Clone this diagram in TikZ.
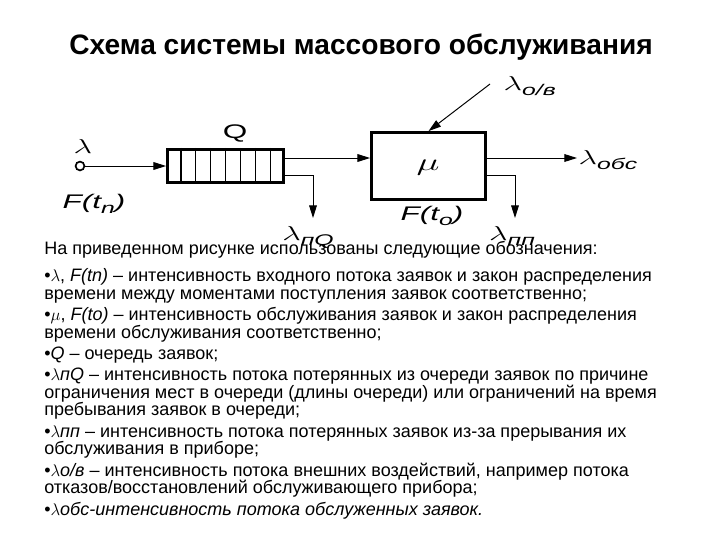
\documentclass[tikz,border=0pt]{standalone}
\usepackage{fontspec}
\setmainfont{Liberation Sans}
\usetikzlibrary{arrows.meta,positioning,calc}
\newcommand\stretchx[1]{\scalebox{1.6}[1]{#1}}
\newcommand\lamsub[1]{\stretchx{$\lambda$\raisebox{-0.45ex}{\fontsize{11}{12}\selectfont #1}}}

\begin{document}
\begin{tikzpicture}[x=0.025cm,y=-0.025cm,font=\fontsize{14}{16}\selectfont]
\tikzset{arr/.style={draw,line width=0.7pt,-{Triangle[length=9pt,width=5.5pt]}},
  thickbox/.style={draw,line width=2pt,rectangle,inner sep=0pt},
  lbl/.style={inner sep=1pt,font=\fontsize{14}{16}\selectfont\itshape}}
\useasboundingbox (0,0) rectangle (720,540);
% title
\node[font=\bfseries\fontsize{20}{22}\selectfont] (title) at (361,47) {Схема системы массового обслуживания};
% input
\node[draw,circle,line width=1.2pt,minimum size=0.22cm,inner sep=0pt] (src) at (80,166) {};
\node[lbl] (lin) at (83,146) {\stretchx{$\lambda$}};
\node[lbl] (Fn) at (94,204) {\stretchx{F(t\raisebox{-0.45ex}{\fontsize{11}{12}\selectfont n})}};
% queue
\node[thickbox,minimum width=2.9cm,minimum height=0.83cm] (queue) at (225.5,166) {};
\foreach \i in {1,...,7}
  \draw[line width=0.8pt] ($(queue.north west)!\i/8!(queue.north east)$) -- ($(queue.south west)!\i/8!(queue.south east)$);
\node[lbl,font=\fontsize{14}{16}\selectfont] (qlab) at (235,133) {\stretchx{Q}};
% server
\node[thickbox,minimum width=2.85cm,minimum height=1.675cm] (server) at (428.5,166) {};
\node[lbl] (mu) at (428,168) {\stretchx{\fontsize{17}{18}\selectfont$\mu$}};
\node[lbl] (Fo) at (432,216) {\stretchx{F(t\raisebox{-0.45ex}{\fontsize{11}{12}\selectfont o})}};
% outputs
\coordinate (lpQtip) at (313,218);
\coordinate (lpptip) at (515,218);
\node[lbl,anchor=north] (lpQ) at (308,225) {\lamsub{пQ}};
\node[lbl,anchor=north] (lpp) at (512,225) {\lamsub{пп}};
\node[lbl,anchor=west] (lobs) at (577,160) {\lamsub{обс}};
\node[lbl,anchor=west] (lov) at (502,86) {\lamsub{о/в}};
\coordinate (ovstart) at (490,84);
% connectors
\draw[arr] (src) -- (queue);
\draw[arr] ([yshift=0.2cm]queue.east) -- ([yshift=0.2cm]server.west);
\draw[arr] ([yshift=-0.225cm]queue.east) -| (lpQtip);
\draw[arr] ([yshift=0.2cm]server.east) -- ([yshift=0.2cm]server.east -| lobs.west);
\draw[arr] ([yshift=-0.225cm]server.east) -| (lpptip);
\draw[arr] (ovstart) -- (server.north);
% legend
\node[anchor=north west,align=left,inner sep=0pt,font=\fontsize{12.8}{12.45}\selectfont] (legend) at (44,241) {%
На приведенном рисунке использованы следующие обозначения:\\[6.8pt]
•$\lambda$, \textit{F(tn)} – интенсивность входного потока заявок и закон распределения\\
времени между моментами поступления заявок соответственно;\\[2.8pt]
•$\mu$, \textit{F(to)} – интенсивность обслуживания заявок и закон распределения\\
времени обслуживания соответственно;\\[2.8pt]
•\textit{Q} – очередь заявок;\\[2.8pt]
•\textit{$\lambda$пQ} – интенсивность потока потерянных из очереди заявок по причине\\
ограничения мест в очереди (длины очереди) или ограничений на время\\
пребывания заявок в очереди;\\[2.8pt]
•\textit{$\lambda$пп} – интенсивность потока потерянных заявок из-за прерывания их\\
обслуживания в приборе;\\[2.8pt]
•\textit{$\lambda$о/в} – интенсивность потока внешних воздействий, например потока\\
отказов/восстановлений обслуживающего прибора;\\[2.8pt]
•\textit{$\lambda$обс-интенсивность потока обслуженных заявок.}};
\end{tikzpicture}
\end{document}
